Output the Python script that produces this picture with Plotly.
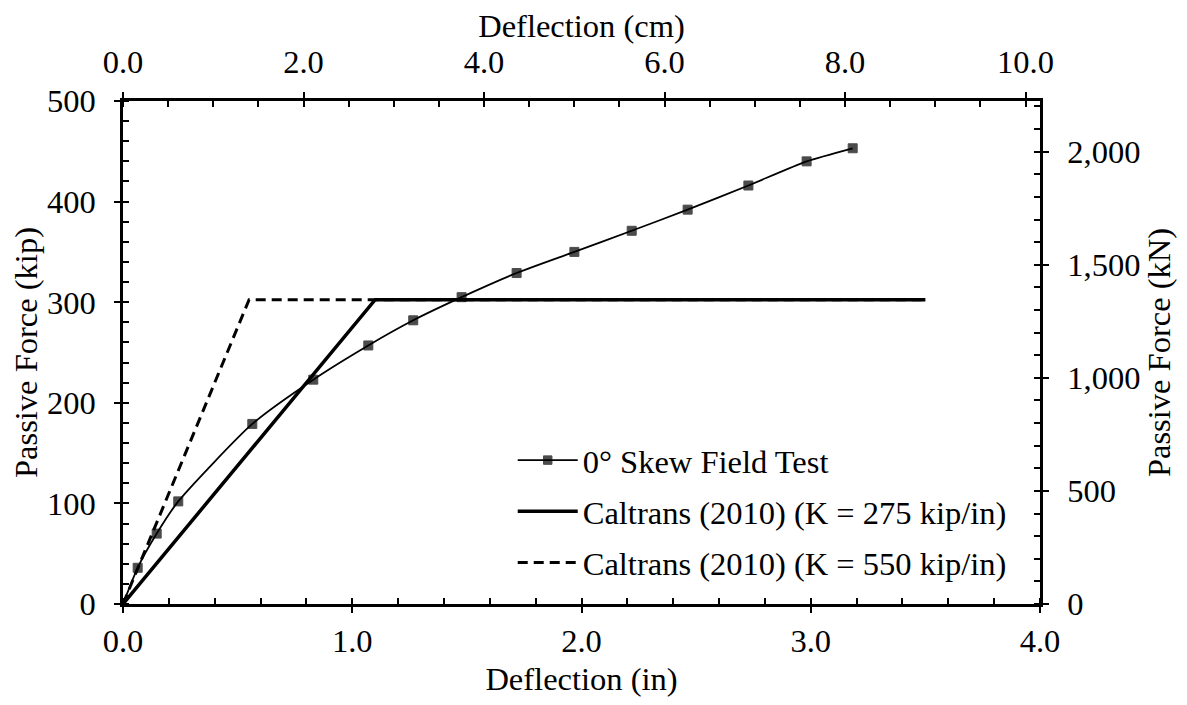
import plotly.graph_objects as go

# Field test data
test_x = [0.0, 0.064, 0.147, 0.241, 0.564, 0.830, 1.070, 1.266, 1.477,
          1.717, 1.969, 2.219, 2.463, 2.728, 2.982, 3.183]
test_y = [0.0, 36, 70, 102, 179, 223, 257, 282, 305,
          329, 350, 371, 392, 416, 440, 453]

# Caltrans (2010) bilinear curves
k275_x = [0.0, 1.1, 3.5]
k275_y = [0.0, 302.5, 302.5]
k550_x = [0.0, 0.55, 3.5]
k550_y = [0.0, 302.5, 302.5]

IN_TO_CM = 2.54
KIP_TO_KN = 4.44822

x_max = 4.0
y_max = 500.0

font = dict(family="Liberation Serif", size=32.5, color="black")

fig = go.Figure()

fig.add_trace(go.Scatter(
    x=test_x, y=test_y, mode="lines+markers", name="0° Skew Field Test",
    line=dict(color="black", width=1.8, shape="spline", smoothing=0.6),
    marker=dict(symbol="square", size=[0] + [9] * (len(test_x) - 1),
                color="black", line=dict(width=1, color="black")),
    legendgroup="a",
))
fig.add_trace(go.Scatter(
    x=k275_x, y=k275_y, mode="lines", name="Caltrans (2010) (K = 275 kip/in)",
    line=dict(color="black", width=3.5), legendgroup="b",
))
fig.add_trace(go.Scatter(
    x=k550_x, y=k550_y, mode="lines", name="Caltrans (2010) (K = 550 kip/in)",
    line=dict(color="black", width=3, dash="10px,6px"), legendgroup="c",
))

# invisible trace holding the secondary (metric) axes
fig.add_trace(go.Scatter(
    x=[0, x_max * IN_TO_CM], y=[0, y_max * KIP_TO_KN], xaxis="x2", yaxis="y2",
    mode="markers", marker=dict(opacity=0), showlegend=False, hoverinfo="skip",
))

common = dict(
    showline=True, linecolor="black", linewidth=2.5, showgrid=False, zeroline=False,
    ticks="outside", ticklen=6, tickwidth=2, tickcolor="black",
    tickfont=font, title_font=font, automargin=False,
)
inner = dict(
    showline=False, showgrid=False, zeroline=False, showticklabels=False,
    ticks="inside", ticklen=6, tickwidth=2, tickcolor="black", automargin=False,
)
minor_style = dict(ticks="inside", ticklen=6, tickwidth=2, tickcolor="black")

# the page body adds an 8px offset, so the figure is 8px smaller each way
fig.update_layout(
    width=1179, height=697,
    plot_bgcolor="white", paper_bgcolor="white",
    font=font,
    margin=dict(l=115, r=147, t=93, b=101),
    xaxis=dict(
        range=[0, x_max], dtick=1, tickformat=".1f", ticklabelstandoff=0,
        title=dict(text="Deflection (in)", standoff=10),
        minor=dict(dtick=0.2, **minor_style),
        **common,
    ),
    yaxis=dict(
        range=[0, y_max], dtick=100, ticklabelstandoff=12,
        title=dict(text="Passive Force (kip)", standoff=2),
        minor=dict(dtick=20, **minor_style),
        **common,
    ),
    xaxis2=dict(
        overlaying="x", side="top", anchor="y",
        range=[0, x_max * IN_TO_CM], dtick=2, tickformat=".1f", ticklabelstandoff=6,
        title=dict(text="Deflection (cm)", standoff=17),
        minor=dict(dtick=0.5, **minor_style),
        **common,
    ),
    yaxis2=dict(
        overlaying="y", side="right", anchor="x",
        range=[0, y_max * KIP_TO_KN], dtick=500, tickformat=",", ticklabelstandoff=12,
        title=dict(text="Passive Force (kN)", standoff=8),
        minor=dict(dtick=100, **minor_style),
        **common,
    ),
    # tick-only overlays so major ticks cross the axis lines
    xaxis3=dict(overlaying="x", side="bottom", anchor="y", range=[0, x_max], dtick=1, **inner),
    xaxis4=dict(overlaying="x", side="top", anchor="y", range=[0, x_max * IN_TO_CM], dtick=2, **inner),
    yaxis3=dict(overlaying="y", side="left", anchor="x", range=[0, y_max], dtick=100, **inner),
    yaxis4=dict(overlaying="y", side="right", anchor="x", range=[0, y_max * KIP_TO_KN], dtick=500, **inner),
    legend=dict(
        x=0.425, y=0.341, xanchor="left", yanchor="top",
        bgcolor="rgba(0,0,0,0)", font=font,
        traceorder="grouped", tracegroupgap=6, itemwidth=60,
    ),
    showlegend=True,
)

fig.write_html("out.html")
